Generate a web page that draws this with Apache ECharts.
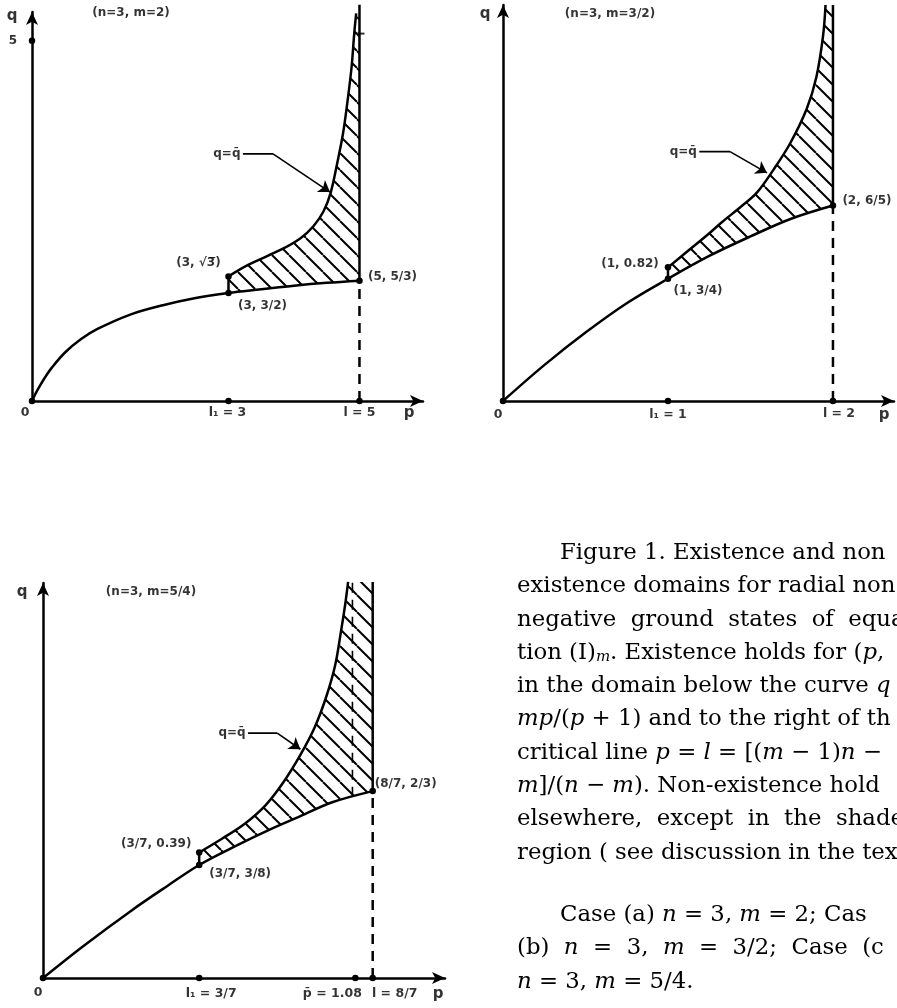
<!DOCTYPE html>
<html>
<head>
<meta charset="utf-8">
<script src="https://cdn.jsdelivr.net/npm/echarts@6/dist/echarts.min.js"></script>
<style>
  html, body { margin: 0; padding: 0; background: #fff; }
  #chart { width: 897px; height: 1008px; }
</style>
</head>
<body>
<div id="chart"></div>
<script>
/* ---------------- data ---------------- */
// axis ranges of the three panels (a), (b), (c)
var xRange = [5.97, 2.37, 1.39];
var yRange = [5.4, 2.43, 1.416];

// (a) n=3, m=2
var lowA = [[0, 0], [0.05, 0.095], [0.1, 0.18], [0.2, 0.33], [0.3, 0.46], [0.5, 0.67], [0.75, 0.86], [1, 1], [1.5, 1.2], [2, 1.33], [2.5, 1.43], [3, 1.5], [3.5, 1.55], [4, 1.6], [4.5, 1.64], [5, 1.67]];
var upA = [[3, 1.73], [3.3, 1.89], [3.8, 2.1], [4.1, 2.26], [4.3, 2.43], [4.45, 2.63], [4.56, 2.89], [4.66, 3.3], [4.75, 3.72], [4.82, 4.18], [4.88, 4.64], [4.92, 5.1], [4.95, 5.38]];
var edgeA = [[5, 0], [5, 1.67], [5, 5.5]];
var stepA = [[3, 1.5], [3, 1.73]];
var leaderA = [[3.22, 3.43], [3.68, 3.43], [4.55, 2.9]];
var dotsA = [[0, 0], [3, 0], [5, 0], [0, 5], [3, 1.5], [3, 1.73], [5, 1.67]];
var textA = ['(n=3, m=2)', 'q', '5', '0', 'l₁ = 3', 'l = 5', 'p', '(3, √3̅)', '(3, 3/2)', '(5, 5/3)', 'q=q̄'];
var anchorA = [[0, 5.4], [0, 5.4], [0, 5], [0, 0], [3, 0], [5, 0], [5.97, 0], [3, 1.73], [3, 1.5], [5, 1.67], [3.22, 3.43]];

// (b) n=3, m=3/2
var lowB = [[0, 0], [0.25, 0.22], [0.5, 0.42], [0.75, 0.6], [1, 0.75], [1.25, 0.89], [1.5, 1.01], [1.75, 1.12], [2, 1.2]];
var upB = [[1, 0.82], [1.12, 0.92], [1.24, 1.02], [1.33, 1.1], [1.44, 1.19], [1.54, 1.28], [1.64, 1.42], [1.74, 1.58], [1.84, 1.79], [1.9, 1.99], [1.94, 2.24], [1.955, 2.43]];
var edgeB = [[2, 0], [2, 1.2], [2, 2.43]];
var stepB = [[1, 0.75], [1, 0.82]];
var leaderB = [[1.19, 1.53], [1.376, 1.53], [1.6, 1.4]];
var dotsB = [[0, 0], [1, 0], [2, 0], [1, 0.75], [1, 0.82], [2, 1.2]];
var textB = ['(n=3, m=3/2)', 'q', '0', 'l₁ = 1', 'l = 2', 'p', '(2, 6/5)', '(1, 0.82)', '(1, 3/4)', 'q=q̄'];
var anchorB = [[0, 2.43], [0, 2.43], [0, 0], [1, 0], [2, 0], [2.37, 0], [2, 1.2], [1, 0.82], [1, 0.75], [1.19, 1.53]];

// (c) n=3, m=5/4 (a sketch, not to scale)
var lowC = [[0, 0], [0.14, 0.115], [0.31, 0.245], [0.43, 0.33], [0.54, 0.405], [0.66, 0.47], [0.78, 0.53], [0.89, 0.58], [1, 0.63], [1.14, 0.67]];
var upC = [[0.54, 0.45], [0.62, 0.5], [0.7, 0.555], [0.77, 0.62], [0.83, 0.7], [0.89, 0.8], [0.94, 0.9], [0.98, 1.01], [1.01, 1.12], [1.03, 1.24], [1.045, 1.34], [1.055, 1.42]];
var edgeC = [[1.14, 0], [1.14, 0.67], [1.14, 1.42]];
var barC = [[1.07, 0.65], [1.07, 1.42]];
var stepC = [[0.54, 0.405], [0.54, 0.45]];
var leaderC = [[0.709, 0.878], [0.81, 0.878], [0.89, 0.82]];
var dotsC = [[0, 0], [0.54, 0], [1.08, 0], [1.14, 0], [0.54, 0.405], [0.54, 0.45], [1.14, 0.67]];
var textC = ['(n=3, m=5/4)', 'q', '0', 'l₁ = 3/7', 'p̄ = 1.08', 'l = 8/7', 'p', '(8/7, 2/3)', '(3/7, 0.39)', '(3/7, 3/8)', 'q=q̄'];
var anchorC = [[0, 1.416], [0, 1.416], [0, 0], [0.54, 0], [1.08, 0], [1.14, 0], [1.39, 0], [1.14, 0.67], [0.54, 0.45], [0.54, 0.405], [0.709, 0.878]];

var captionLines = [
  'Figure 1. Existence and non',
  'existence domains for radial non',
  'negative  ground  states  of  equa',
  'tion (I){sub|m}. Existence holds for ({i|p},',
  'in the domain below the curve {i|q} =',
  '{i|mp}/({i|p} + 1) and to the right of th',
  'critical line {i|p} = {i|l} = [({i|m} − 1){i|n} −',
  '{i|m}]/({i|n} − {i|m}). Non-existence hold',
  'elsewhere,  except  in  the  shade',
  'region ( see discussion in the text',
  'Case (a) {i|n} = 3, {i|m} = 2; Cas',
  '(b)  {i|n}  =  3,  {i|m}  =  3/2;  Case  (c',
  '{i|n} = 3, {i|m} = 5/4.'
];

/* ---------------- label offsets (px from anchor) ---------------- */
var offA = [[99, 1], [-20, 4], [-19, 0], [-7, 12], [-1, 12], [0, 12], [-14, 12], [-30, -14], [34, 13], [33, -4], [-16, 0]];
var offB = [[107, 9], [-18, 9], [-5, 14], [0, 14], [6, 13], [-10, 14], [34, -5], [-38, -3], [30, 12], [-16, 0]];
var offC = [[108, 9], [-21, 9], [-5, 15], [12, 16], [-23, 16], [22, 16], [-7, 16], [33, -7], [-43, -9], [41, 9], [-16, 0]];

var chartDom = document.getElementById('chart');
var myChart = echarts.init(chartDom);

// diagonal hatch tile
function makeHatch(step, w) {
  var c = document.createElement('canvas');
  c.width = step; c.height = step;
  var g = c.getContext('2d');
  g.strokeStyle = '#000';
  g.lineWidth = w;
  g.beginPath();
  for (var k = -1; k <= 1; k++) {
    g.moveTo(k * step, 0);
    g.lineTo(k * step + step, step);
  }
  g.stroke();
  return c;
}
var hatch = makeHatch(17, 2);

function region(up, corner, low, l1) {
  var lower = low.filter(function (d) { return d[0] >= l1; }).reverse();
  return up.concat([corner]).concat(lower);
}
var regA = region(upA, [5, 5.38], lowA, 3);
var regB = region(upB, [2, 2.43], lowB, 1);
var regC = region(upC, [1.14, 1.42], lowC, 0.54);

function axis(k, max) {
  return {
    gridIndex: k, type: 'value', min: 0, max: max,
    axisLine: { show: true, onZero: false, symbol: ['none', 'arrow'], symbolSize: [9, 13], lineStyle: { color: '#000', width: 2.5 } },
    axisTick: { show: false }, axisLabel: { show: false }, splitLine: { show: false }
  };
}

function line(k, data, extra) {
  var s = {
    type: 'line', xAxisIndex: k, yAxisIndex: k, data: data, symbol: 'none',
    smooth: false, clip: false, silent: true, z: 3,
    lineStyle: { color: '#000', width: 2.5 }
  };
  return Object.assign(s, extra || {});
}

function panel(k, low, up, edge, step, leader, dots, texts, anchors, offs, reg) {
  var out = [];
  out.push({
    type: 'custom', xAxisIndex: k, yAxisIndex: k, data: [reg[0]], z: 1, silent: true, clip: false,
    renderItem: function (params, api) {
      var pts = reg.map(function (d) { return api.coord(d); });
      return { type: 'polygon', shape: { points: pts, smooth: 0 }, style: { fill: { image: hatch, repeat: 'repeat' }, stroke: null } };
    }
  });
  out.push(line(k, low, { smooth: 0.35 }));
  out.push(line(k, up, { smooth: 0.35 }));
  out.push(line(k, step));
  out.push(line(k, edge.slice(0, 2), { lineStyle: { color: '#000', width: 2.5, type: [10, 7] } }));
  out.push(line(k, edge.slice(1)));
  // leader: horizontal part, then the slanted part with an arrow head
  out.push(line(k, leader.slice(0, 2), { lineStyle: { color: '#000', width: 1.6 } }));
  out.push({
    type: 'lines', coordinateSystem: 'cartesian2d', xAxisIndex: k, yAxisIndex: k,
    data: [{ coords: leader.slice(1) }], symbol: ['none', 'arrow'], symbolSize: [8, 11], silent: true, z: 4,
    lineStyle: { color: '#000', width: 1.6, opacity: 1, curveness: 0 }
  });
  out.push({
    type: 'scatter', xAxisIndex: k, yAxisIndex: k, data: dots, symbolSize: 6.5, silent: true, z: 5,
    itemStyle: { color: '#000', opacity: 1 }
  });
  out.push({
    type: 'scatter', xAxisIndex: k, yAxisIndex: k, symbolSize: 0, silent: true, z: 6,
    data: anchors.map(function (a, i) {
      var big = texts[i] === 'p' || texts[i] === 'q';
      var onAxis = a[1] === 0 && !big;
      return {
        value: a,
        label: {
          show: true, formatter: texts[i], offset: offs[i], color: '#000',
          fontFamily: 'DejaVu Sans', fontWeight: 'bold', fontSize: big ? 15 : (onAxis ? 12.5 : 12)
        }
      };
    }),
    label: { show: true, position: 'inside', color: '#000', fontFamily: 'DejaVu Sans', fontWeight: 'bold', textBorderWidth: 0 }
  });
  return out;
}

var series = []
  .concat(panel(0, lowA, upA, edgeA, stepA, leaderA, dotsA, textA, anchorA, offA, regA))
  .concat(panel(1, lowB, upB, edgeB, stepB, leaderB, dotsB, textB, anchorB, offB, regB))
  .concat(panel(2, lowC, upC, edgeC, stepC, leaderC, dotsC, textC, anchorC, offC, regC));

// small tick on the critical line of (a)
series.push({
  type: 'scatter', xAxisIndex: 0, yAxisIndex: 0, data: [[5, 5.1]], symbol: 'rect', symbolSize: [10, 2],
  itemStyle: { color: '#000' }, silent: true, z: 5
});
// p-bar line in (c)
series.push(line(2, barC, { lineStyle: { color: '#000', width: 1.6, type: [10, 7] } }));

// caption
var caption = captionLines.map(function (t, i) {
  var y = i < 10 ? 553 + i * 33.3 : 915 + (i - 10) * 33.3;
  var x = (i === 0 || i === 10) ? 560 : 517;
  return {
    type: 'text', x: x, y: y, silent: true,
    style: {
      text: t, fill: '#000', fontFamily: 'DejaVu Serif', fontSize: 22.8,
      verticalAlign: 'middle', align: 'left',
      rich: {
        i: { fontFamily: 'DejaVu Serif', fontStyle: 'italic', fontSize: 22.8, fill: '#000' },
        sub: { fontFamily: 'DejaVu Serif', fontStyle: 'italic', fontSize: 15, verticalAlign: 'bottom', lineHeight: 15, fill: '#000' }
      }
    }
  };
});

var option = {
  backgroundColor: '#fff',
  animation: false,
  grid: [
    { left: 32, top: 12, width: 391, height: 389 },
    { left: 503, top: 5, width: 391, height: 396 },
    { left: 43, top: 583, width: 402, height: 395 }
  ],
  xAxis: [axis(0, xRange[0]), axis(1, xRange[1]), axis(2, xRange[2])],
  yAxis: [axis(0, yRange[0]), axis(1, yRange[1]), axis(2, yRange[2])],
  series: series,
  graphic: caption
};

option && myChart.setOption(option);
</script>
</body>
</html>
